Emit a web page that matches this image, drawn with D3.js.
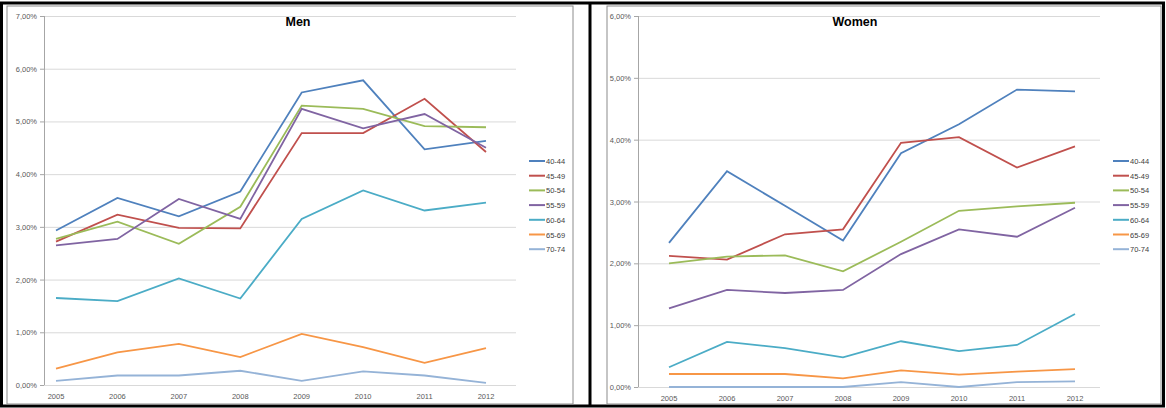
<!DOCTYPE html>
<html><head><meta charset="utf-8">
<script src="https://cdn.jsdelivr.net/npm/d3@7"></script>
<style>body{margin:0;background:#fff;}svg{display:block;font-family:"Liberation Sans",Arial,sans-serif;}</style>
</head><body><svg id="c" width="1166" height="408"></svg>
<script>
const years = [2005, 2006, 2007, 2008, 2009, 2010, 2011, 2012];
const groups = ["40-44", "45-49", "50-54", "55-59", "60-64", "65-69", "70-74"];
const colors = ["#4F81BD", "#C0504D", "#9BBB59", "#8064A2", "#4BACC6", "#F79646", "#95B3D7"];

const men = [
  [2.93, 3.55, 3.20, 3.67, 5.55, 5.78, 4.47, 4.63],
  [2.72, 3.23, 2.98, 2.97, 4.78, 4.78, 5.43, 4.42],
  [2.77, 3.10, 2.68, 3.38, 5.30, 5.24, 4.91, 4.89],
  [2.65, 2.77, 3.53, 3.15, 5.24, 4.87, 5.14, 4.50],
  [1.65, 1.59, 2.02, 1.64, 3.15, 3.69, 3.31, 3.46],
  [0.31, 0.62, 0.78, 0.53, 0.97, 0.72, 0.42, 0.70],
  [0.08, 0.18, 0.18, 0.27, 0.08, 0.26, 0.18, 0.04]
];
const women = [
  [2.33, 3.49, 2.93, 2.37, 3.78, 4.25, 4.81, 4.78],
  [2.12, 2.06, 2.47, 2.55, 3.95, 4.04, 3.55, 3.89],
  [2.00, 2.11, 2.13, 1.87, 2.35, 2.85, 2.92, 2.98],
  [1.27, 1.57, 1.52, 1.57, 2.15, 2.55, 2.43, 2.90],
  [0.32, 0.73, 0.63, 0.48, 0.74, 0.58, 0.68, 1.18],
  [0.21, 0.21, 0.21, 0.14, 0.27, 0.20, 0.25, 0.29],
  [0.00, 0.00, 0.00, 0.00, 0.08, 0.00, 0.08, 0.09]
];

const svg = d3.select("#c");

// table borders
svg.append("rect").attr("x", 1.5).attr("y", 3).attr("width", 1162).attr("height", 403)
  .attr("fill", "none").attr("stroke", "#000").attr("stroke-width", 3);
svg.append("line").attr("x1", 590).attr("x2", 590).attr("y1", 3).attr("y2", 406)
  .attr("stroke", "#000").attr("stroke-width", 3);

function chart(opt) {
  const g = svg.append("g");
  g.append("rect").attr("x", opt.box[0]).attr("y", opt.box[1]).attr("width", opt.box[2]).attr("height", opt.box[3])
    .attr("fill", "#fff").attr("stroke", "#8c8c8c").attr("stroke-width", 1);

  const x = d3.scalePoint().domain(years).range([opt.x0, opt.x1]);
  const y = d3.scaleLinear().domain([0, opt.max]).range([opt.y0, opt.y1]);
  const ticks = d3.range(0, opt.max + 1);

  g.selectAll(".grid").data(ticks).enter().append("line")
    .attr("x1", opt.ax).attr("x2", opt.ax2)
    .attr("y1", d => y(d) + 0.5).attr("y2", d => y(d) + 0.5)
    .attr("stroke", "#d9d9d9");
  g.append("line").attr("x1", opt.ax + 0.5).attr("x2", opt.ax + 0.5).attr("y1", y(opt.max)).attr("y2", y(0))
    .attr("stroke", "#a6a6a6");
  g.selectAll(".tk").data(ticks).enter().append("line")
    .attr("x1", opt.ax - 4).attr("x2", opt.ax).attr("y1", d => y(d) + 0.5).attr("y2", d => y(d) + 0.5)
    .attr("stroke", "#a6a6a6");
  g.selectAll(".yl").data(ticks).enter().append("text")
    .attr("x", opt.ax - 7).attr("y", d => y(d) + 3).attr("text-anchor", "end")
    .attr("font-size", 7.5).attr("fill", "#595959")
    .text(d => d3.format(".2f")(d).replace(".", ",") + "%");
  g.selectAll(".xl").data(years).enter().append("text")
    .attr("x", d => x(d)).attr("y", y(0) + 14).attr("text-anchor", "middle")
    .attr("font-size", 7.5).attr("fill", "#595959").text(d => d);

  const line = d3.line().x((d, i) => x(years[i])).y(d => y(d));
  opt.data.forEach((s, k) => {
    g.append("path").attr("d", line(s)).attr("fill", "none")
      .attr("stroke", colors[k]).attr("stroke-width", 1.8);
  });

  g.append("text").attr("x", opt.tx).attr("y", 26).attr("text-anchor", "middle")
    .attr("font-size", 12.5).attr("font-weight", "bold").attr("fill", "#000").text(opt.title);

  const lg = g.append("g").attr("transform", `translate(${opt.lx},161)`);
  groups.forEach((name, k) => {
    lg.append("line").attr("x1", 0).attr("x2", 16).attr("y1", k * 14.7).attr("y2", k * 14.7)
      .attr("stroke", colors[k]).attr("stroke-width", 2);
    lg.append("text").attr("x", 17).attr("y", k * 14.7 + 3).attr("font-size", 7.5)
      .attr("fill", "#404040").text(name);
  });
}

chart({ box: [7, 6, 566, 398], x0: 56, x1: 486, y0: 385, y1: 16, max: 7, ax: 44, ax2: 516,
  data: men, title: "Men", tx: 298, lx: 529 });
chart({ box: [607, 6, 554, 398], x0: 669, x1: 1075, y0: 387, y1: 16, max: 6, ax: 638, ax2: 1100,
  data: women, title: "Women", tx: 855, lx: 1113 });
</script></body></html>
